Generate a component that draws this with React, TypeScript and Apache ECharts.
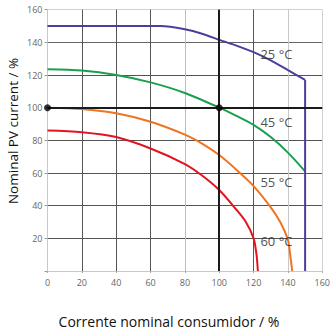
import React, { useEffect, useRef } from "react";
import * as echarts from "echarts";

const xTicks = [0, 20, 40, 60, 80, 100, 120, 140, 160];
const yTicks = [20, 40, 60, 80, 100, 120, 140, 160];

const blueX = [0, 66, 80, 90, 100, 110, 120, 130, 140, 150, 150];
const blueY = [150, 150, 148, 145.3, 141.5, 138, 134, 129, 123, 117, 0];

const greenX = [0, 20, 40, 60, 80, 100, 110, 120, 130, 140, 150];
const greenY = [123.5, 122.7, 120, 115.5, 109, 100, 95, 89.5, 82, 72.5, 61];

const orangeX = [0, 20, 40, 60, 80, 90, 100, 110, 120, 130, 135.5, 140, 141.3, 142.5];
const orangeY = [100, 99.2, 96.6, 91.4, 83.5, 78, 71, 62, 52, 39, 30, 19, 10, 0];

const redX = [0, 20, 40, 60, 80, 90, 100, 110, 115.5, 120, 121.7, 122.5];
const redY = [86, 85, 82, 75, 65.5, 58.5, 49.6, 37.5, 30, 20, 10, 0];

const curveNames = ["25 °C", "45 °C", "55 °C", "60 °C"];
const curveColors = ["#4a3f9c", "#1a9f4e", "#f07320", "#e3141f"];
const labelX = [133.3, 133.3, 133.3, 133.3];
const labelY = [133, 91, 54.2, 18.4];

const dotX = [0, 100];
const dotY = [100, 100];

const xName = "Corrente nominal consumidor / %";
const yName = "Nominal PV current / %";

const zip = (xs: number[], ys: number[]) => xs.map((x, i) => [x, ys[i]]);

export default function App() {
  const ref = useRef<HTMLDivElement>(null);
  useEffect(() => {
    if (!ref.current) return;
    const chart = echarts.init(ref.current, undefined, { renderer: "svg" });
    const font = "'Open Sans', 'DejaVu Sans', sans-serif";
    const blueAll = zip(blueX, blueY);
    const blueCurve = blueAll.slice(0, blueAll.length - 1);
    const blueDrop = blueAll.slice(blueAll.length - 2);
    const curves: number[][][] = [
      blueCurve,
      zip(greenX, greenY),
      zip(orangeX, orangeY),
      zip(redX, redY),
    ];
    const series: any[] = curves.map((c, i) => ({
      type: "line",
      name: curveNames[i],
      data: c,
      showSymbol: false,
      smooth: i === 0 ? 0.2 : 0.3,
      lineStyle: { color: curveColors[i], width: 2 },
      z: 3,
    }));
    series.push({
      type: "line",
      data: blueDrop,
      showSymbol: false,
      lineStyle: { color: curveColors[0], width: 2 },
      z: 3,
    });
    series.push({
      type: "line",
      data: [],
      markLine: {
        silent: true,
        symbol: "none",
        label: { show: false },
        lineStyle: { color: "#1a1a1a", width: 2, type: "solid" },
        data: [{ xAxis: 100 }, { yAxis: 100 }],
      },
      z: 2,
    });
    series.push({
      type: "scatter",
      data: zip(dotX, dotY),
      symbolSize: 7,
      itemStyle: { color: "#000" },
      z: 5,
    });
    series.push({
      type: "scatter",
      data: labelX.map((x, i) => ({ value: [x, labelY[i]], name: curveNames[i] })),
      symbolSize: 0,
      label: {
        show: true,
        position: "inside",
        formatter: (p: any) => p.name,
        color: "#222",
        fontSize: 13,
        fontFamily: font,
      },
      z: 6,
    });
    chart.setOption({
      animation: false,
      grid: { left: 47.5, right: 8.5, top: 9.7, bottom: 58 },
      xAxis: {
        type: "value",
        min: 0,
        max: 160,
        interval: 20,
        axisLine: { show: true, lineStyle: { color: "#c8c8c8" } },
        axisTick: { show: true, length: 2, lineStyle: { color: "#aaa" } },
        axisLabel: {
          color: "#666",
          fontSize: 9,
          margin: 7,
          fontFamily: font,
          formatter: (v: number) => (xTicks.includes(v) ? String(v) : ""),
        },
        splitLine: {
          show: true,
          lineStyle: {
            color: ["#cfcfcf", "#555", "#555", "#555", "#bbb", "#555", "#555", "#c8c8c8", "#d0d0d0"],
            width: 1,
          },
        },
      },
      yAxis: {
        type: "value",
        min: 0,
        max: 160,
        interval: 20,
        axisLine: { show: true, lineStyle: { color: "#c8c8c8" } },
        axisTick: { show: true, length: 3, lineStyle: { color: "#999" } },
        axisLabel: {
          color: "#666",
          fontSize: 9,
          margin: 5,
          fontFamily: font,
          formatter: (v: number) => (yTicks.includes(v) ? String(v) : ""),
        },
        splitLine: {
          show: true,
          lineStyle: {
            color: ["#cfcfcf", "#555", "#555", "#555", "#555", "#555", "#555", "#666", "#d0d0d0"],
            width: 1,
          },
        },
      },
      graphic: [
        {
          type: "text",
          x: 169,
          y: 321,
          style: {
            text: xName,
            fill: "#111",
            fontSize: 14,
            fontFamily: font,
            align: "center",
            verticalAlign: "middle",
          },
        },
        {
          type: "text",
          x: 13,
          y: 131,
          rotation: Math.PI / 2,
          style: {
            text: yName,
            fill: "#111",
            fontSize: 13.5,
            fontFamily: font,
            align: "center",
            verticalAlign: "middle",
          },
        },
      ],
      series,
    });
    return () => chart.dispose();
  }, []);
  return (
    <div
      ref={ref}
      style={{ position: "fixed", left: 0, top: 0, width: 333, height: 329, background: "#fff" }}
    />
  );
}
